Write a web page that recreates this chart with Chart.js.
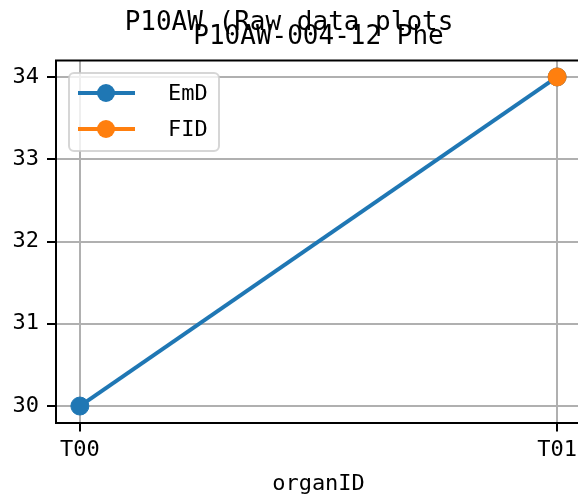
<!DOCTYPE html>
<html>
<head>
<meta charset="utf-8">
<script src="https://cdn.jsdelivr.net/npm/chart.js@4.4.1/dist/chart.umd.min.js"></script>
<style>
  html, body { margin: 0; padding: 0; background: #fff; overflow: hidden; }
  #wrap { width: 578px; height: 499px; overflow: hidden; }
  canvas { display: block; }
</style>
</head>
<body>
<div id="wrap"><canvas id="c" width="610" height="499"></canvas></div>
<script>
// ── Datos ────────────────────────────────────────────────────
const organIDs = ['T00', 'T01'];
const emdValues = [30, 34];
const fidValues = [null, 34];
const yTicks = [30, 31, 32, 33, 34];

const SUPTITLE = 'P10AW (Raw data plots';
const TITLE = 'P10AW-004-12 Phe';
const FONT = '"DejaVu Sans Mono", "Liberation Mono", monospace';
const BLUE = '#1f77b4', ORANGE = '#ff7f0e';

const series = [
  { label: 'EmD', values: emdValues, color: BLUE },
  { label: 'FID', values: fidValues, color: ORANGE }
];

// Títulos, borde superior y leyenda dentro del área (estilo matplotlib)
const decor = {
  id: 'decor',
  afterDatasetsDraw(chart) {
    const { ctx, chartArea: a } = chart;
    ctx.save();
    // espina superior
    ctx.strokeStyle = '#000'; ctx.lineWidth = 2;
    ctx.beginPath(); ctx.moveTo(a.left - 1, a.top); ctx.lineTo(a.right + 1, a.top); ctx.stroke();

    // leyenda
    const bx = 69, by = 73, bw = 150, bh = 78;
    ctx.fillStyle = 'rgba(255,255,255,0.8)';
    ctx.strokeStyle = 'rgba(204,204,204,0.8)';
    ctx.lineWidth = 2;
    ctx.beginPath(); ctx.roundRect(bx, by, bw, bh, 5); ctx.fill(); ctx.stroke();
    ctx.font = '22px ' + FONT;
    ctx.textBaseline = 'middle';
    series.forEach((s, i) => {
      const y = 93 + i * 36;
      ctx.strokeStyle = s.color; ctx.lineWidth = 4;
      ctx.beginPath(); ctx.moveTo(78, y); ctx.lineTo(135, y); ctx.stroke();
      ctx.fillStyle = s.color;
      ctx.beginPath(); ctx.arc(106, y, 9, 0, Math.PI * 2); ctx.fill();
      ctx.fillStyle = '#000';
      ctx.fillText(s.label, 168, y + 1);
    });
    ctx.restore();
  },
  afterDraw(chart) {
    const { ctx, chartArea: a } = chart;
    ctx.save();
    ctx.fillStyle = '#000';
    ctx.font = '26px ' + FONT;
    ctx.textAlign = 'center';
    ctx.textBaseline = 'alphabetic';
    ctx.fillText(SUPTITLE, 289, 30);
    ctx.fillText(TITLE, (a.left + a.right) / 2, 44);
    ctx.restore();
  }
};

new Chart(document.getElementById('c').getContext('2d'), {
  type: 'line',
  data: {
    datasets: series.map((s, k) => ({
      label: s.label,
      data: s.values.map((v, i) => ({ x: i, y: v })),
      borderColor: s.color, backgroundColor: s.color,
      pointBackgroundColor: s.color, pointBorderColor: s.color,
      pointRadius: 9, pointBorderWidth: 1, borderWidth: 4,
      spanGaps: false, order: 1 - k
    }))
  },
  options: {
    responsive: false, animation: false, devicePixelRatio: 1,
    layout: { padding: { top: 60.5, right: 29, left: 0, bottom: 0 } },
    plugins: { legend: { display: false }, tooltip: { enabled: false }, title: { display: false } },
    scales: {
      x: {
        type: 'linear', min: -0.05, max: 1.05,
        afterBuildTicks: sc => { sc.ticks = organIDs.map((_, i) => ({ value: i })); },
        afterFit: sc => { sc.height = 76.5; },
        grid: { color: '#b0b0b0', lineWidth: 2, tickColor: '#000', tickWidth: 2, tickLength: 9 },
        border: { display: true, color: '#000', width: 2 },
        ticks: { color: '#000', font: { family: FONT, size: 22 }, padding: 6, maxRotation: 0,
                 callback: v => organIDs[v] },
        title: { display: true, text: 'organID', color: '#000', font: { family: FONT, size: 22 },
                 padding: { top: 0, bottom: 2 } }
      },
      y: {
        type: 'linear', min: 29.8, max: 34.2,
        afterBuildTicks: sc => { sc.ticks = yTicks.map(v => ({ value: v })); },
        afterFit: sc => { sc.width = 56; },
        grid: { color: '#b0b0b0', lineWidth: 2, tickColor: '#000', tickWidth: 2, tickLength: 9 },
        border: { display: true, color: '#000', width: 2 },
        ticks: { color: '#000', font: { family: FONT, size: 22 }, padding: 8 }
      }
    }
  },
  plugins: [decor]
});
</script>
</body>
</html>
